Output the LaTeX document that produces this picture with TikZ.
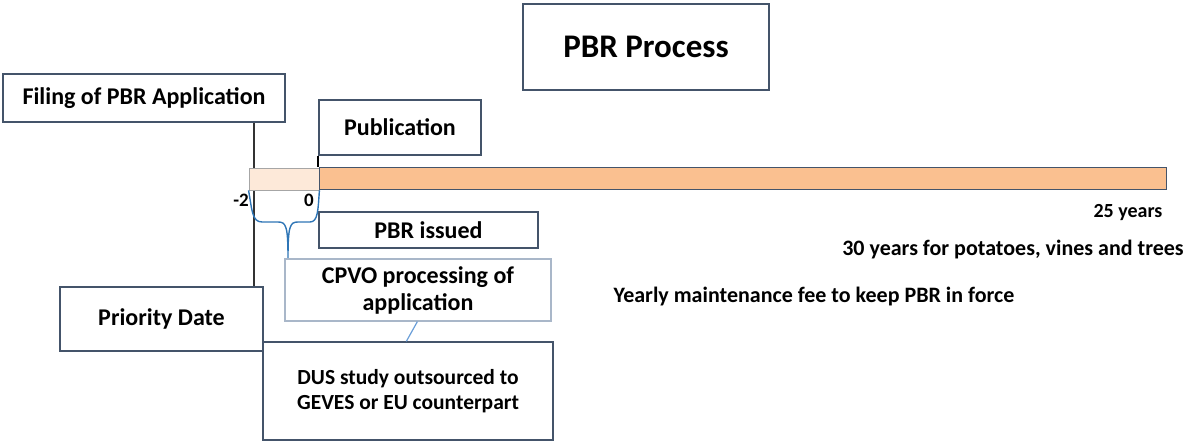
\documentclass[tikz,border=0pt]{standalone}
\usepackage{fontspec}
\setmainfont{Carlito}
\usetikzlibrary{calc}
\definecolor{boxc}{HTML}{44546A}
\definecolor{orangef}{HTML}{FAC090}
\definecolor{lightf}{HTML}{FDE9D9}
\definecolor{bracec}{HTML}{2E75B6}
\definecolor{cpvoc}{HTML}{A9B7C9}
\definecolor{connc}{HTML}{6A9ED8}
\tikzset{
  box/.style={draw=boxc, line width=1.3pt, fill=white, inner sep=0pt, align=center},
  lbl/.style={inner sep=0pt, font=\bfseries\fontsize{22}{25}\selectfont},
  big/.style={font=\bfseries\fontsize{24}{27}\selectfont},
}
\begin{document}
\begin{tikzpicture}[x=1pt,y=-1pt]
\useasboundingbox (0,0) rectangle (1187,443);
% title
\node[box, font=\bfseries\fontsize{33}{36}\selectfont, minimum width=246pt, minimum height=86pt] (title) at (646,47) {PBR Process};
% filing
\node[box, big, minimum width=282pt, minimum height=48pt] (filing) at (144,98) {Filing of PBR Application};
% priority
\node[box, big, minimum width=203pt, minimum height=64pt] (prio) at (161.5,319) {Priority Date};
% connector filing -> priority
\coordinate (fp) at (254,0);
\draw[black!80, line width=1.2pt] (fp |- filing.south) -- (fp |- prio.north);
% publication
\node[box, big, minimum width=162pt, minimum height=55pt] (pub) at (400,127.5) {Publication};
% bars
\node[draw=gray!70, line width=0.8pt, fill=lightf, minimum width=70pt, minimum height=22pt, inner sep=0pt] (lbar) at (284,179) {};
\node[draw=boxc, line width=1pt, fill=orangef, minimum width=847pt, minimum height=22pt, inner sep=0pt] (obar) at (742.5,179) {};
\draw[black, line width=2.2pt] (pub.south west) -- (pub.south west |- obar.north west);
% ticks
\node[lbl, font=\bfseries\fontsize{19}{22}\selectfont] (m2) at (241,200) {-2};
\node[lbl, font=\bfseries\fontsize{19}{22}\selectfont] (z0) at (309,200) {0};
% PBR issued
\node[box, big, minimum width=219pt, minimum height=36pt] (issued) at (428.5,230) {PBR issued};
% CPVO
\node[draw=cpvoc, line width=1.3pt, fill=white, inner sep=0pt, align=center, big, minimum width=266pt, minimum height=62pt] (cpvo) at (418,290) {CPVO processing of\\[0pt]application};
% brace
\draw[bracec, line width=1.4pt] (lbar.south west) .. controls (252,210) and (252,222) .. (262,222) -- (278,222) .. controls (286,222) and (288,226) .. (288,258) .. controls (288,226) and (290,222) .. (298,222) -- (310,222) .. controls (318,222) and (318,210) .. (lbar.south east);
% DUS
\node[box, font=\bfseries\fontsize{21.5}{25}\selectfont, minimum width=290pt, minimum height=98pt] (dus) at (408,391) {DUS study outsourced to\\GEVES or EU counterpart};
\draw[connc, line width=1.2pt] ($(cpvo.south west)+(133,0)$) -- ($(dus.north west)+(144,0)$);
% free texts
\node[lbl, font=\bfseries\fontsize{20}{23}\selectfont] (y25) at (1128,213) {25 years};
\node[lbl] (y30) at (1013,250) {30 years for potatoes, vines and trees};
\node[lbl] (fee) at (814,297) {Yearly maintenance fee to keep PBR in force};
\end{tikzpicture}
\end{document}
